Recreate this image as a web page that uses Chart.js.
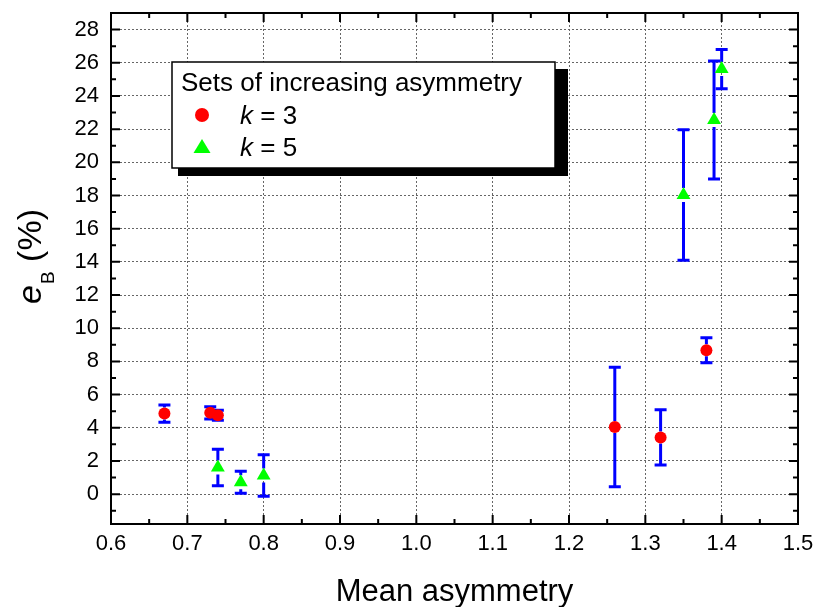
<!DOCTYPE html>
<html>
<head>
<meta charset="utf-8">
<script src="https://cdn.jsdelivr.net/npm/chart.js@4/dist/chart.umd.min.js"></script>
<style>
  html, body { margin: 0; padding: 0; background: #fff; }
</style>
</head>
<body>
<canvas id="chart" width="818" height="607"></canvas>
<script>
// tick labels
const xTicks = [0.6, 0.7, 0.8, 0.9, 1.0, 1.1, 1.2, 1.3, 1.4, 1.5];
const yTicks = [0, 2, 4, 6, 8, 10, 12, 14, 16, 18, 20, 22, 24, 26, 28];

// k = 3 (red circles)
const k3X   = [0.67, 0.73, 0.74, 1.26, 1.32, 1.38];
const k3Y   = [4.86, 4.90, 4.75, 4.05, 3.42, 8.67];
const k3Err = [0.52, 0.37, 0.30, 3.60, 1.67, 0.75];

// k = 5 (green triangles)
const k5X   = [0.74, 0.77, 0.80, 1.35, 1.39, 1.40];
const k5Y   = [1.60, 0.72, 1.13, 18.03, 22.55, 25.62];
const k5Err = [1.10, 0.66, 1.25, 3.93, 3.55, 1.18];

const FONT = '"Liberation Sans", Arial, sans-serif';

const toPoints = (xs, ys) => xs.map((x, i) => ({ x: x, y: ys[i] }));

// blue error bars, with a small gap where the marker sits
const errorBars = {
  id: 'errorBars',
  beforeDatasetsDraw(chart) {
    const { ctx } = chart;
    const xs = chart.scales.x, ys = chart.scales.y;
    const sets = [[k3X, k3Y, k3Err, 6], [k5X, k5Y, k5Err, 7]];
    ctx.save();
    ctx.strokeStyle = '#0000ff';
    ctx.lineWidth = 3;
    sets.forEach(([X, Y, E, gap]) => {
      X.forEach((x, i) => {
        const px = xs.getPixelForValue(x);
        const py = ys.getPixelForValue(Y[i]);
        const top = ys.getPixelForValue(Y[i] + E[i]);
        const bot = ys.getPixelForValue(Y[i] - E[i]);
        ctx.beginPath();
        if (py - gap > top) { ctx.moveTo(px, top); ctx.lineTo(px, py - gap); }
        if (py + gap < bot) { ctx.moveTo(px, py + gap); ctx.lineTo(px, bot); }
        ctx.moveTo(px - 6, top); ctx.lineTo(px + 6, top);
        ctx.moveTo(px - 6, bot); ctx.lineTo(px + 6, bot);
        ctx.stroke();
      });
    });
    ctx.restore();
  }
};

// top/right frame, inward ticks, legend box and axis titles
const frame = {
  id: 'frame',
  afterDraw(chart) {
    const { ctx, chartArea: a } = chart;
    const xs = chart.scales.x, ys = chart.scales.y;
    ctx.save();
    ctx.strokeStyle = '#000';
    ctx.lineWidth = 2;
    ctx.beginPath();
    ctx.moveTo(a.left, a.top); ctx.lineTo(a.right, a.top); ctx.lineTo(a.right, a.bottom);
    ctx.stroke();

    ctx.beginPath();
    xTicks.forEach((v, i) => {
      const p = xs.getPixelForValue(v);
      ctx.moveTo(p, a.bottom); ctx.lineTo(p, a.bottom - 9);
      ctx.moveTo(p, a.top); ctx.lineTo(p, a.top + 9);
      if (i < xTicks.length - 1) {
        const m = xs.getPixelForValue((v + xTicks[i + 1]) / 2);
        ctx.moveTo(m, a.bottom); ctx.lineTo(m, a.bottom - 5);
        ctx.moveTo(m, a.top); ctx.lineTo(m, a.top + 5);
      }
    });
    const yMinor = [-1].concat(yTicks.map(v => v + 1));
    yTicks.forEach(v => {
      const p = ys.getPixelForValue(v);
      ctx.moveTo(a.left, p); ctx.lineTo(a.left + 9, p);
      ctx.moveTo(a.right, p); ctx.lineTo(a.right - 9, p);
    });
    yMinor.forEach(v => {
      const p = ys.getPixelForValue(v);
      ctx.moveTo(a.left, p); ctx.lineTo(a.left + 5, p);
      ctx.moveTo(a.right, p); ctx.lineTo(a.right - 5, p);
    });
    ctx.stroke();

    // legend
    ctx.fillStyle = '#000';
    ctx.fillRect(178, 69, 390, 107);
    ctx.fillStyle = '#fff';
    ctx.fillRect(172, 62, 383, 106);
    ctx.lineWidth = 1.5;
    ctx.strokeRect(172, 62, 383, 106);

    ctx.fillStyle = '#000';
    ctx.textBaseline = 'alphabetic';
    ctx.textAlign = 'left';
    ctx.font = '26px ' + FONT;
    ctx.fillText('Sets of increasing asymmetry', 181, 91);

    ctx.fillStyle = '#ff0000';
    ctx.beginPath(); ctx.arc(202, 115, 7, 0, Math.PI * 2); ctx.fill();
    ctx.fillStyle = '#00ff00';
    ctx.beginPath();
    ctx.moveTo(202, 139); ctx.lineTo(210.5, 153); ctx.lineTo(193.5, 153); ctx.closePath();
    ctx.fill();

    ctx.fillStyle = '#000';
    [['3', 124], ['5', 156]].forEach(([n, by]) => {
      ctx.font = 'italic 26px ' + FONT;
      ctx.fillText('k', 240, by);
      const w = ctx.measureText('k').width;
      ctx.font = '26px ' + FONT;
      ctx.fillText(' = ' + n, 240 + w, by);
    });

    // x title
    ctx.font = '31px ' + FONT;
    ctx.textAlign = 'center';
    ctx.fillText('Mean asymmetry', (a.left + a.right) / 2, 601);

    // y title: e_B (%)
    ctx.translate(41, 257);
    ctx.rotate(-Math.PI / 2);
    ctx.textAlign = 'left';
    ctx.font = 'italic 34px ' + FONT;
    const wE = ctx.measureText('e').width;
    ctx.font = '19px ' + FONT;
    const wB = ctx.measureText('B').width;
    ctx.font = '34px ' + FONT;
    const wP = ctx.measureText(' (%)').width;
    let x0 = -(wE + wB + wP) / 2;
    ctx.font = 'italic 34px ' + FONT;
    ctx.fillText('e', x0, 0);
    ctx.font = '19px ' + FONT;
    ctx.fillText('B', x0 + wE + 1, 13);
    ctx.font = '34px ' + FONT;
    ctx.fillText(' (%)', x0 + wE + wB + 1, 0);
    ctx.restore();
  }
};

new Chart(document.getElementById('chart'), {
  type: 'scatter',
  data: {
    datasets: [
      {
        label: 'k = 3',
        data: toPoints(k3X, k3Y),
        pointStyle: 'circle',
        pointRadius: 6,
        backgroundColor: '#ff0000',
        borderColor: '#ff0000',
        borderWidth: 0
      },
      {
        label: 'k = 5',
        data: toPoints(k5X, k5Y),
        pointStyle: 'triangle',
        pointRadius: 8,
        backgroundColor: '#00ff00',
        borderColor: '#00ff00',
        borderWidth: 0
      }
    ]
  },
  options: {
    responsive: false,
    animation: false,
    events: [],
    layout: { padding: { left: 0, right: 20, top: 13, bottom: 0 } },
    plugins: { legend: { display: false }, tooltip: { enabled: false } },
    scales: {
      x: {
        type: 'linear',
        min: 0.6, max: 1.5,
        afterBuildTicks: s => { s.ticks = xTicks.map(v => ({ value: v })); },
        afterFit: s => { s.height = 83; s.paddingLeft = 0; s.paddingRight = 0; },
        ticks: {
          color: '#000',
          font: { family: FONT, size: 22 },
          padding: 7,
          maxRotation: 0,
          callback: v => v.toFixed(1)
        },
        grid: { color: '#666', lineWidth: 1, drawTicks: false },
        border: { display: true, color: '#000', width: 2, dash: [2, 2] }
      },
      y: {
        min: -1.8, max: 29,
        afterBuildTicks: s => { s.ticks = yTicks.map(v => ({ value: v })); },
        afterFit: s => { s.width = 111; s.paddingTop = 0; s.paddingBottom = 0; },
        ticks: {
          color: '#000',
          font: { family: FONT, size: 22 },
          padding: 12,
          callback: v => String(v)
        },
        grid: { color: '#666', lineWidth: 1, drawTicks: false },
        border: { display: true, color: '#000', width: 2, dash: [2, 2] }
      }
    }
  },
  plugins: [errorBars, frame]
});
</script>
</body>
</html>
